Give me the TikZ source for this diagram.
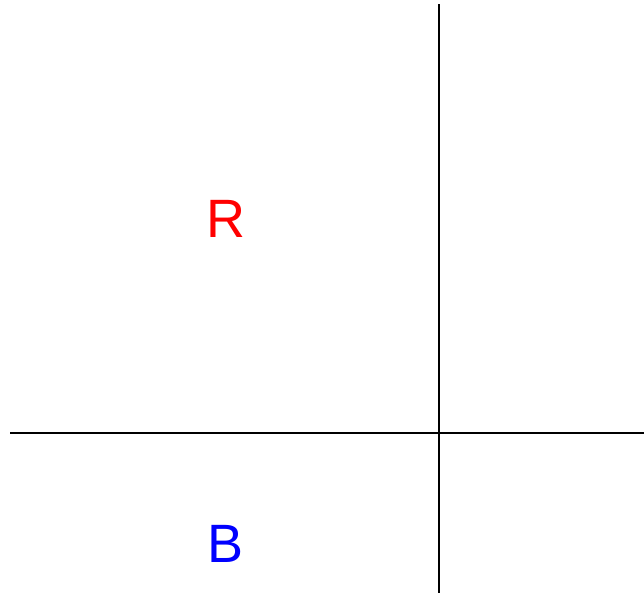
\documentclass[tikz,border=0pt]{standalone}
\usepackage{fontspec}
\setmainfont{Liberation Sans}
\usetikzlibrary{positioning}
\begin{document}
\begin{tikzpicture}[x=1pt,y=-1pt,
  axis/.style={line width=1.8pt,black},
  lbl/.style={font=\fontsize{54}{60}\selectfont,inner sep=0pt,anchor=base}]
\useasboundingbox (0,0) rectangle (644,597);
\coordinate (vtop) at (439,4);
\coordinate (vbot) at (439,593);
\coordinate (hleft) at (10,433);
\coordinate (hright) at (644,433);
\draw[axis] (vtop) -- (vbot);
\draw[axis] (hleft) -- (hright);
\node[lbl,text=red] (r) at (225.5,237) {R};
\node[lbl,text=blue] (b) at (226,562) {B};
\end{tikzpicture}
\end{document}
